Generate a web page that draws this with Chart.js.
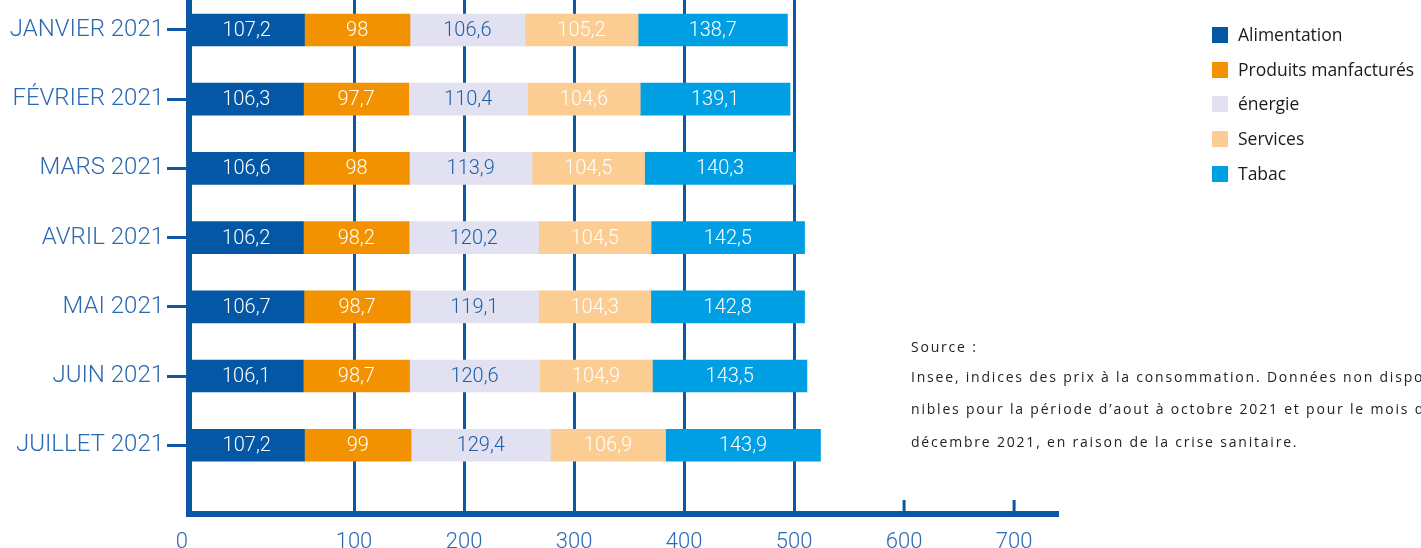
<!DOCTYPE html>
<html>
<head>
<meta charset="utf-8">
<script src="https://cdn.jsdelivr.net/npm/chart.js@4.4.1/dist/chart.umd.min.js"></script>
<style>
  html, body { margin: 0; padding: 0; overflow: hidden; background: #fff; }
  #wrap { position: absolute; left: 0; top: 0; width: 1421px; height: 580px; }
  #legend { position: absolute; left: 1212px; top: 27px; font: 17.5px "Open Sans", sans-serif; color: #1b1b1b; white-space: nowrap; }
  .item { position: relative; height: 34.7px; }
  .box { position: absolute; left: 0; top: 0; width: 16px; height: 16px; }
  .txt { position: absolute; left: 26px; top: -5px; }
  .src { position: absolute; left: 911px; font: 14px "Open Sans", sans-serif; letter-spacing: 1.8px; color: #222; white-space: nowrap; }
</style>
</head>
<body>
<div id="wrap"><canvas id="indices"></canvas></div>
<div id="legend"></div>
<div class="src" style="top:337px">Source :</div>
<div class="src" style="top:367px">Insee, indices des prix à la consommation. Données non dispo-</div>
<div class="src" style="top:399px">nibles pour la période d’aout à octobre 2021 et pour le mois de</div>
<div class="src" style="top:432px">décembre 2021, en raison de la crise sanitaire.</div>
<script>
const months = ["JANVIER 2021", "FÉVRIER 2021", "MARS 2021", "AVRIL 2021", "MAI 2021", "JUIN 2021", "JUILLET 2021"];
const seriesNames = ["Alimentation", "Produits manfacturés", "énergie", "Services", "Tabac"];
const alimentation = [107.2, 106.3, 106.6, 106.2, 106.7, 106.1, 107.2];
const produits = [98, 97.7, 98, 98.2, 98.7, 98.7, 99];
const energie = [106.6, 110.4, 113.9, 120.2, 119.1, 120.6, 129.4];
const services = [105.2, 104.6, 104.5, 104.5, 104.3, 104.9, 106.9];
const tabac = [138.7, 139.1, 140.3, 142.5, 142.8, 143.5, 143.9];
const axisTicks = [0, 100, 200, 300, 400, 500, 600, 700];

const blue = "#0a58a6";
const colors = ["#0457a4", "#f39200", "#e1e1f2", "#fbcd93", "#009fe3"];
const textColors = ["#ffffff", "#ffffff", "#1d5ea8", "#ffffff", "#ffffff"];
const allSeries = [alimentation, produits, energie, services, tabac];

// value labels in the middle of each segment
const barLabels = {
  id: "barLabels",
  afterDatasetsDraw(chart) {
    const ctx = chart.ctx;
    ctx.save();
    ctx.font = "300 20px Roboto";
    ctx.textAlign = "center";
    ctx.textBaseline = "middle";
    chart.data.datasets.forEach((ds, di) => {
      chart.getDatasetMeta(di).data.forEach((bar, i) => {
        const p = bar.getProps(["x", "base", "y"], true);
        ctx.fillStyle = textColors[di];
        ctx.fillText(String(ds.data[i].x).replace(".", ","), (p.x + p.base) / 2, p.y + 1);
      });
    });
    ctx.restore();
  }
};

// short marks on the axis where there is no full grid line
const axisMarks = {
  id: "axisMarks",
  afterDraw(chart) {
    const s = chart.scales.x2;
    const ctx = chart.ctx;
    const bottom = chart.chartArea.bottom;
    ctx.save();
    ctx.strokeStyle = blue;
    ctx.lineWidth = 3;
    axisTicks.filter(v => v > 500).forEach(v => {
      const px = s.getPixelForValue(v);
      ctx.beginPath();
      ctx.moveTo(px, bottom);
      ctx.lineTo(px, bottom - 14);
      ctx.stroke();
    });
    ctx.restore();
  }
};

const chart = new Chart(document.getElementById("indices"), {
  type: "bar",
  data: {
    datasets: seriesNames.map((name, k) => ({
      label: name,
      data: allSeries[k].map((v, i) => ({ x: v, y: i })),
      backgroundColor: colors[k],
      borderWidth: 0,
      barThickness: 32,
      xAxisID: "x",
      yAxisID: "y",
      clip: false
    }))
  },
  options: {
    indexAxis: "y",
    responsive: true,
    maintainAspectRatio: false,
    animation: false,
    events: [],
    layout: { padding: { left: 0, top: 0, right: 364, bottom: 0 } },
    plugins: { legend: { display: false }, tooltip: { enabled: false } },
    scales: {
      x: { type: "linear", stacked: true, min: 0, max: 806, display: false },
      x2: {
        type: "linear",
        position: "bottom",
        min: -50,
        max: 739,
        z: 1,
        // the zero label sits just left of the axis corner
        afterBuildTicks: s => { s.ticks = axisTicks.map(v => ({ value: v === 0 ? s.min - 6.5 : v })); },
        afterFit: s => { s.height = 580 - 514; s.paddingLeft = 0; s.paddingRight = 0; },
        grid: {
          drawTicks: false,
          lineWidth: 3,
          color: c => (c.tick && c.tick.value >= 100 && c.tick.value <= 500) ? blue : "rgba(0,0,0,0)"
        },
        border: { width: 6, color: blue },
        ticks: {
          autoSkip: false,
          maxRotation: 0,
          padding: 15,
          color: "#2a68b1",
          font: { family: "Roboto", weight: 300, size: 22 },
          callback: (v, i) => String(axisTicks[i])
        }
      },
      y: {
        type: "linear",
        stacked: true,
        reverse: true,
        offset: false,
        min: -0.4335,
        max: 6.994,
        z: 1,
        afterBuildTicks: s => { s.ticks = months.map((m, i) => ({ value: i })); },
        afterFit: s => { s.width = 189; s.paddingTop = 0; s.paddingBottom = 0; },
        grid: { offset: false, drawOnChartArea: false, drawTicks: true, tickLength: 22, tickWidth: 3, tickColor: blue },
        border: { width: 6, color: blue },
        ticks: {
          autoSkip: false,
          padding: 3,
          color: "#2a68b1",
          font: { family: "Roboto", weight: 300, size: 24 },
          callback: v => months[v]
        }
      }
    }
  },
  plugins: [barLabels, axisMarks]
});

const legend = document.getElementById("legend");
chart.data.datasets.forEach(ds => {
  const row = document.createElement("div");
  row.className = "item";
  row.innerHTML = '<span class="box" style="background:' + ds.backgroundColor + '"></span><span class="txt">' + ds.label + "</span>";
  legend.appendChild(row);
});
</script>
</body>
</html>
